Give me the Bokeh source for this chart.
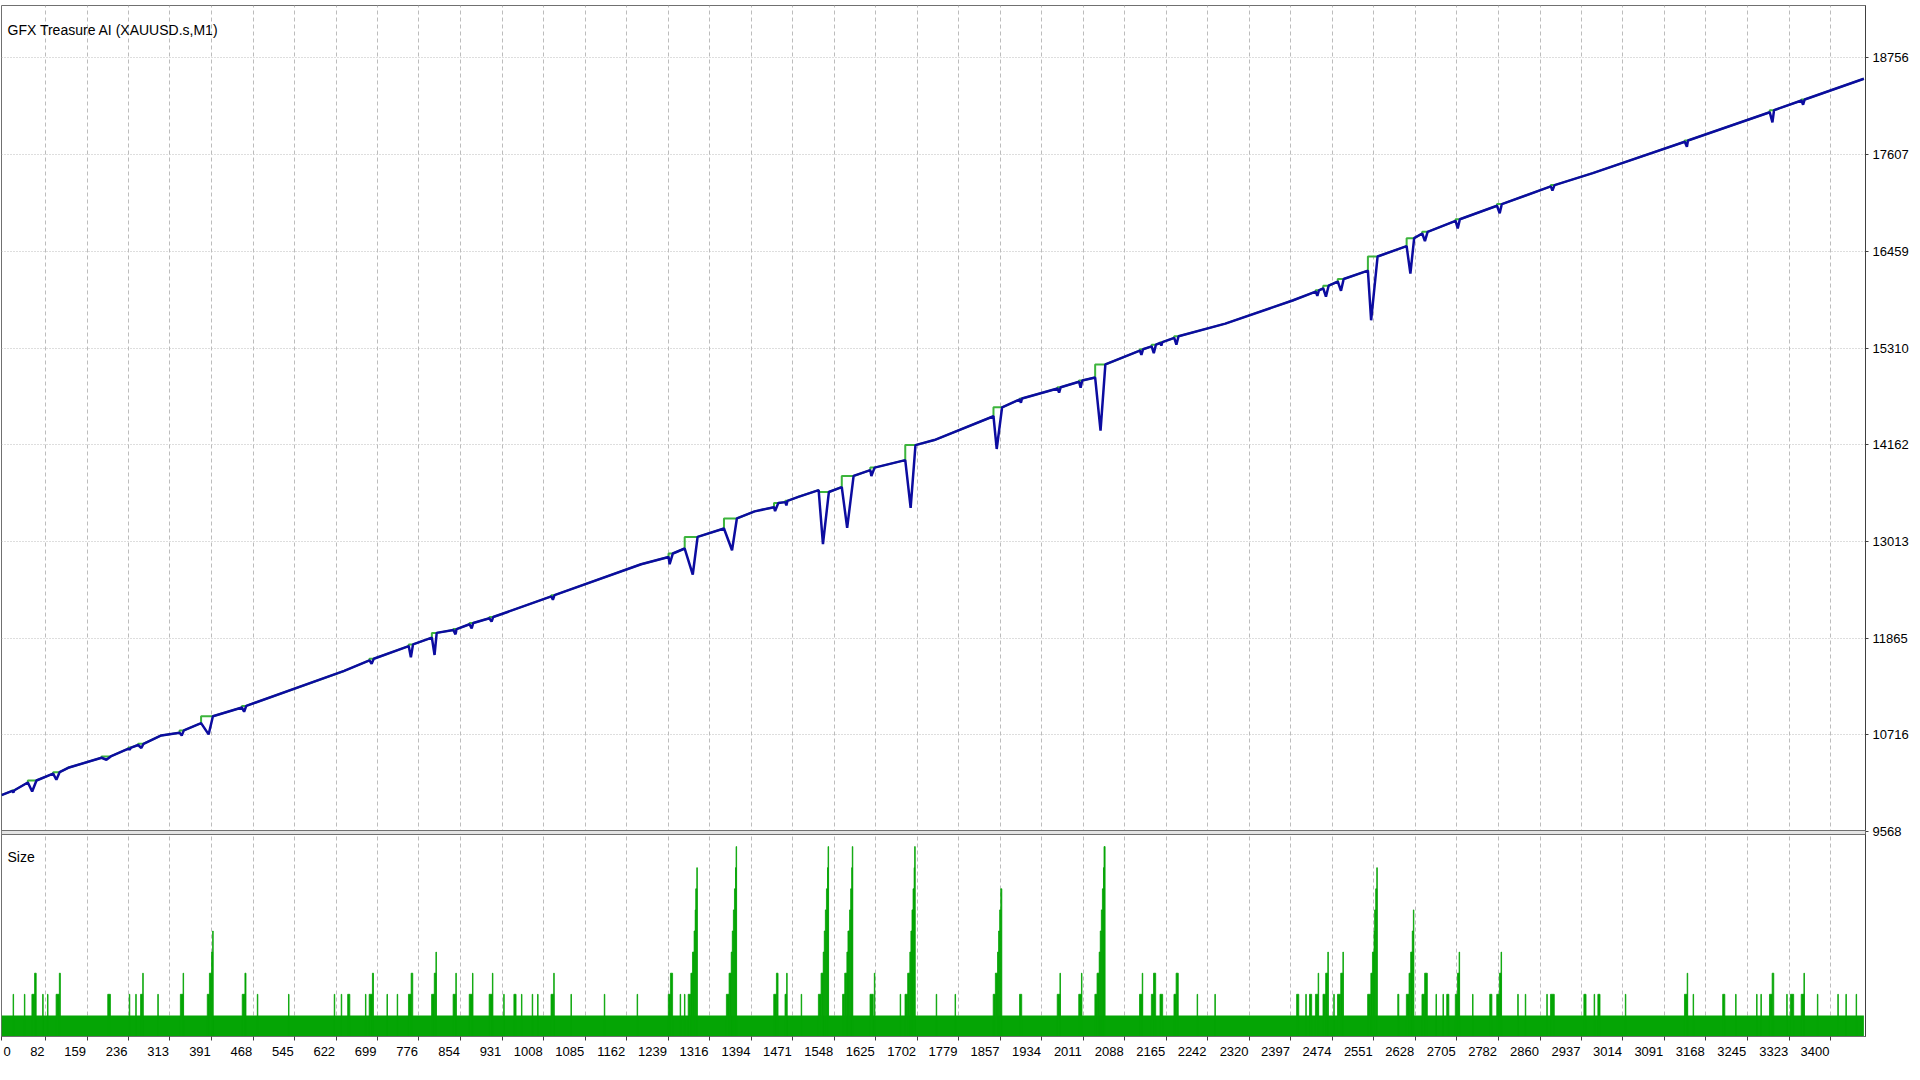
from bokeh.plotting import figure
from bokeh.models import Range1d, FixedTicker, Label, ColumnDataSource, BoxAnnotation
from bokeh.embed import file_html
from bokeh.resources import INLINE

TITLE = "GFX Treasure AI (XAUUSD.s,M1)"
SIZE_TITLE = "Size"
N_TRADES = 3462

y_ticks = [9568, 10716, 11865, 13013, 14162, 15310, 16459, 17607, 18756]
y_labels = ["9568", "10716", "11865", "13013", "14162", "15310", "16459", "17607", "18756"]
x_ticks = [0, 82, 159, 236, 313, 391, 468, 545, 622, 699, 776, 854, 931, 1008, 1085,
           1162, 1239, 1316, 1394, 1471, 1548, 1625, 1702, 1779, 1857, 1934, 2011, 2088,
           2165, 2242, 2320, 2397, 2474, 2551, 2628, 2705, 2782, 2860, 2937, 3014, 3091,
           3168, 3245, 3323, 3400]
x_labels = [str(t) for t in x_ticks]

# balance/equity path between drawdowns (trade number, value)
trend_trade = [0, 124, 297, 637, 1189, 1400, 1480, 1734, 2275, 2400, 2958, 3462]
trend_value = [10000, 10325, 10709, 11475, 12742, 13370, 13540, 14217, 15600, 15875, 17387, 18508]

# drawdown episodes: start trade, trade of lowest equity, end trade,
# value before, lowest equity, balance after
dip_start = [20, 49, 96, 186, 236, 254, 331, 371, 447, 684, 757, 800, 840, 870, 907, 1022,
             1240, 1270, 1343, 1436, 1457, 1519, 1562, 1615, 1680, 1844, 1893, 1963, 2003,
             2033, 2116, 2138, 2154, 2180, 2443, 2457, 2484, 2540, 2612, 2641, 2703, 2780,
             2880, 3129, 3287, 3346]
dip_low_trade = [22, 57, 102, 195, 238, 260, 335, 385, 451, 688, 761, 805, 844, 874, 911, 1025,
                 1242, 1285, 1358, 1438, 1459, 1527, 1572, 1617, 1690, 1850, 1895, 1966, 2006,
                 2043, 2119, 2142, 2156, 2184, 2446, 2462, 2490, 2546, 2619, 2646, 2707, 2785,
                 2883, 3133, 3292, 3349]
dip_end = [24, 65, 108, 203, 241, 264, 339, 393, 455, 692, 765, 809, 846, 877, 914, 1028,
           1248, 1294, 1367, 1444, 1461, 1538, 1584, 1623, 1699, 1860, 1897, 1969, 2009,
           2052, 2122, 2146, 2158, 2188, 2449, 2467, 2495, 2558, 2626, 2651, 2711, 2789,
           2887, 3135, 3295, 3352]
dip_pre = [10050, 10150, 10255, 10444, 10553, 10595, 10740, 10855, 11040, 11600, 11770, 11870,
           11960, 12030, 12100, 12360, 12829, 12929, 13167, 13420, 13480, 13622, 13659, 13860,
           13979, 14500, 14700, 14830, 14910, 14960, 15280, 15330, 15370, 15430, 15980, 16020,
           16100, 16230, 16520, 16670, 16820, 17000, 17230, 17760, 18110, 18250]
dip_min = [10030, 10044, 10183, 10420, 10540, 10560, 10709, 10721, 10990, 11560, 11636, 11665,
           11910, 11980, 12060, 12320, 12742, 12620, 12909, 13373, 13440, 12980, 13174, 13789,
           13412, 14111, 14660, 14780, 14840, 14329, 15230, 15250, 15340, 15350, 15930, 15920,
           15990, 15640, 16193, 16580, 16730, 16910, 17180, 17700, 17990, 18200]
dip_post = [10058, 10174, 10273, 10460, 10565, 10610, 10769, 10937, 11060, 11620, 11790, 11927,
            11972, 12045, 12115, 12375, 12870, 13067, 13286, 13470, 13495, 13600, 13791, 13890,
            14157, 14606, 14710, 14845, 14925, 15115, 15295, 15350, 15380, 15450, 15995, 16050,
            16130, 16397, 16615, 16690, 16840, 17020, 17245, 17775, 18135, 18262]

# lot size: base size for every trade, plus runs of larger sizes (first trade, last trade, size)
BASE_SIZE = 1
spike_first = [22, 43, 57, 62, 77, 86, 102, 108, 198, 238, 250, 259, 263, 291, 333, 338,
               383, 387, 391, 393, 448, 453, 476, 534, 619, 632, 644, 677, 684, 690, 717, 736,
               757, 762, 800, 805, 808, 840, 845, 870, 876, 907, 913, 934, 953, 967, 987, 997,
               1022, 1027, 1059, 1121, 1182, 1240, 1244, 1262, 1270,
               1277, 1282, 1285, 1288, 1290, 1291, 1293,
               1348, 1353, 1357, 1359, 1361, 1363, 1365, 1366,
               1436, 1441, 1457, 1460, 1487,
               1519, 1524, 1528, 1530, 1532, 1534, 1536, 1537,
               1564, 1568, 1572, 1574, 1577, 1579, 1581, 1582,
               1615, 1623, 1671,
               1680, 1685, 1689, 1691, 1693, 1695, 1697, 1698,
               1738, 1773,
               1844, 1848, 1852, 1854, 1856, 1858,
               1893, 1963, 1968, 2003, 2008,
               2033, 2037, 2041, 2043, 2045, 2047, 2049, 2050,
               2116, 2121, 2138, 2142, 2154, 2180, 2184, 2223, 2256, 2408, 2425, 2432, 2443, 2448,
               2457, 2462, 2466, 2477, 2484, 2490, 2494,
               2540, 2546, 2549, 2552, 2553, 2555, 2557,
               2596,
               2612, 2617, 2620, 2623, 2625,
               2641, 2646, 2667, 2680, 2687, 2703, 2707, 2710, 2735, 2767, 2780, 2785, 2788,
               2819, 2833, 2873, 2880, 2942, 2961, 2968, 3019, 3129, 3134, 3145, 3200, 3224,
               3263, 3271, 3287, 3292, 3319, 3326, 3346, 3351, 3376, 3414, 3429, 3448]
spike_last = [22, 43, 61, 64, 77, 86, 107, 109, 202, 238, 250, 262, 263, 291, 337, 338,
              386, 390, 392, 393, 452, 454, 476, 534, 619, 632, 647, 677, 689, 691, 717, 736,
              761, 764, 804, 807, 808, 844, 845, 875, 876, 912, 913, 934, 956, 967, 987, 997,
              1026, 1027, 1059, 1121, 1182, 1243, 1247, 1262, 1270,
              1281, 1284, 1287, 1289, 1290, 1292, 1293,
              1352, 1356, 1358, 1360, 1362, 1364, 1365, 1366,
              1440, 1443, 1459, 1460, 1487,
              1523, 1527, 1529, 1531, 1533, 1535, 1536, 1537,
              1567, 1571, 1573, 1576, 1578, 1580, 1581, 1582,
              1620, 1623, 1671,
              1684, 1688, 1690, 1692, 1694, 1696, 1697, 1698,
              1738, 1773,
              1847, 1851, 1853, 1855, 1857, 1859,
              1896, 1967, 1968, 2007, 2008,
              2036, 2040, 2042, 2044, 2046, 2048, 2049, 2051,
              2120, 2121, 2141, 2145, 2158, 2183, 2187, 2223, 2256, 2411, 2425, 2435, 2447, 2448,
              2461, 2465, 2466, 2477, 2489, 2493, 2494,
              2545, 2548, 2551, 2552, 2554, 2556, 2557,
              2597,
              2616, 2619, 2622, 2624, 2625,
              2645, 2650, 2667, 2680, 2690, 2706, 2709, 2710, 2735, 2770, 2784, 2787, 2788,
              2819, 2833, 2873, 2886, 2945, 2961, 2971, 3019, 3133, 3134, 3145, 3203, 3224,
              3263, 3271, 3291, 3294, 3319, 3331, 3350, 3351, 3376, 3414, 3429, 3448]
spike_size = [2, 2, 2, 3, 2, 2, 2, 3, 2, 2, 2, 2, 3, 2, 2, 3,
              2, 3, 4, 5, 2, 3, 2, 2, 2, 2, 2, 2, 2, 3, 2, 2,
              2, 3, 2, 3, 4, 2, 3, 2, 3, 2, 3, 2, 2, 2, 2, 2,
              2, 3, 2, 2, 2, 2, 3, 2, 2,
              2, 3, 4, 5, 6, 7, 8,
              2, 3, 4, 5, 6, 7, 8, 9,
              2, 3, 2, 3, 2,
              2, 3, 4, 5, 6, 7, 8, 9,
              2, 3, 4, 5, 6, 7, 8, 9,
              2, 3, 2,
              2, 3, 4, 5, 6, 7, 8, 9,
              2, 2,
              2, 3, 4, 5, 6, 7,
              2, 2, 3, 2, 3,
              2, 3, 4, 5, 6, 7, 8, 9,
              2, 3, 2, 3, 2, 2, 3, 2, 2, 2, 2, 2, 2, 3,
              2, 3, 4, 2, 2, 3, 4,
              2, 3, 4, 5, 6, 7, 8,
              2,
              2, 3, 4, 5, 6,
              2, 3, 2, 2, 2, 2, 3, 4, 2, 2, 2, 3, 4,
              2, 2, 2, 2, 2, 2, 2, 2, 2, 3, 2, 2, 2,
              2, 2, 2, 3, 2, 2, 2, 3, 2, 2, 2, 2]

# ---------------------------------------------------------------- build paths
eq_pts = [(t, 0, v) for t, v in zip(trend_trade, trend_value)]
bal_pts = list(eq_pts)
for s, lo, e, pre, mn, post in zip(dip_start, dip_low_trade, dip_end, dip_pre, dip_min, dip_post):
    eq_pts += [(s, 0, pre), (lo, 0, mn), (e, 0, post)]
    bal_pts += [(s, 0, pre), (s, 1, post), (e, 0, post)]
eq_pts.sort()
bal_pts.sort()
eq_src = ColumnDataSource(dict(x=[p[0] for p in eq_pts], y=[p[2] for p in eq_pts]))
bal_src = ColumnDataSource(dict(x=[p[0] for p in bal_pts], y=[p[2] for p in bal_pts]))

# ---------------------------------------------------------------- layout constants
FONT = "Liberation Sans"
LABEL_PX = 13
DIGIT_W = 0.556 * LABEL_PX
X_START, X_END = 0, 3465
FRAME_W = 1864
FRAME_H = 1031          # equity panel + separator + size panel
MAIN_PX = 826           # height of equity panel in px
PX_PER_TRADE = FRAME_W / (X_END - X_START)
VAL_PER_PX = 1148.5 / 96.7
SIZE_PX_PER_LOT = 21.1
MAIN_TOP = 9568 + MAIN_PX * VAL_PER_PX
MAIN_LO = 9568 - (FRAME_H - MAIN_PX) * VAL_PER_PX
SIZE_TOP = FRAME_H / SIZE_PX_PER_LOT
SIZE_PANEL_TOP = (FRAME_H - MAIN_PX - 4) / SIZE_PX_PER_LOT
GRID = "#bcbcbc"
EDGE = "#707070"
GREEN = "#05a505"

p = figure(frame_width=FRAME_W, frame_height=FRAME_H,
           x_range=Range1d(X_START, X_END), y_range=Range1d(MAIN_LO, MAIN_TOP),
           extra_y_ranges={"size": Range1d(0, SIZE_TOP)},
           output_backend="svg", toolbar_location=None,
           x_axis_location="below", y_axis_location="right",
           min_border_left=1, min_border_top=5, min_border_right=44, min_border_bottom=30)
p.outline_line_color = EDGE
p.background_fill_color = "white"
p.border_fill_color = "white"

ya = p.yaxis[0]
ya.ticker = FixedTicker(ticks=y_ticks)
ya.major_label_overrides = {t: l for t, l in zip(y_ticks, y_labels)}
ya.major_label_text_font = FONT
ya.major_label_text_font_size = f"{LABEL_PX}px"
ya.major_label_text_color = "black"
ya.major_tick_out = 3
ya.major_tick_in = 0
ya.major_label_standoff = 4
ya.minor_tick_line_color = None
ya.axis_line_color = "#404040"
ya.major_tick_line_color = "#404040"

# trade-number labels sit to the left of their tick (first one to the right of the edge):
# labels are carried by major ticks placed at the label centres, tick marks by minor ticks
label_pos = []
for t, lab in zip(x_ticks, x_labels):
    half = len(lab) * DIGIT_W / 2
    if t == X_START:
        label_pos.append(t + (half + 2) / PX_PER_TRADE)
    else:
        label_pos.append(t - (half + 1) / PX_PER_TRADE)
xa = p.xaxis[0]
xa.ticker = FixedTicker(ticks=label_pos, minor_ticks=x_ticks)
xa.major_label_overrides = {pos: lab for pos, lab in zip(label_pos, x_labels)}
xa.major_label_text_font = FONT
xa.major_label_text_font_size = f"{LABEL_PX}px"
xa.major_label_text_color = "black"
xa.major_tick_out = 4
xa.major_tick_in = 0
xa.major_tick_line_color = None
xa.major_label_standoff = 6
xa.minor_tick_out = 4
xa.minor_tick_in = 0
xa.minor_tick_line_color = "#404040"
xa.axis_line_color = EDGE

p.xgrid.ticker = FixedTicker(ticks=x_ticks[1:])
p.xgrid.grid_line_color = GRID
p.xgrid.grid_line_dash = "4 3"
p.ygrid.ticker = FixedTicker(ticks=y_ticks[1:])
p.ygrid.grid_line_color = GRID
p.ygrid.grid_line_dash = "1 2"

# equity / balance
p.line("x", "y", source=bal_src, line_color="#3cb43c", line_width=2)
p.line("x", "y", source=eq_src, line_color="#0c0ca0", line_width=2.5)

# size histogram
p.quad(left=[0], right=[N_TRADES], bottom=[0], top=[BASE_SIZE],
       fill_color=GREEN, line_color=None, y_range_name="size")
p.quad(left=[s - 0.5 for s in spike_first], right=[e + 0.5 for e in spike_last],
       bottom=[0] * len(spike_size), top=spike_size,
       fill_color=GREEN, line_color=GREEN, line_width=0.8, y_range_name="size")

# separator between the two panels
p.add_layout(BoxAnnotation(top=9568 + 1 * VAL_PER_PX, bottom=9568 - 3 * VAL_PER_PX,
                           fill_color="#e4e4e4", fill_alpha=1.0,
                           line_color=EDGE, line_width=1, line_alpha=1.0))

p.add_layout(Label(x=X_START, y=MAIN_TOP, x_offset=6, y_offset=-16, text=TITLE,
                   text_baseline="top", text_align="left", text_font=FONT,
                   text_font_size="14px", text_color="black"))
p.add_layout(Label(x=X_START, y=SIZE_PANEL_TOP, y_range_name="size", x_offset=6, y_offset=-13,
                   text=SIZE_TITLE, text_baseline="top", text_align="left", text_font=FONT,
                   text_font_size="14px", text_color="black"))

open("out.html", "w").write(file_html(p, INLINE, title=TITLE))
